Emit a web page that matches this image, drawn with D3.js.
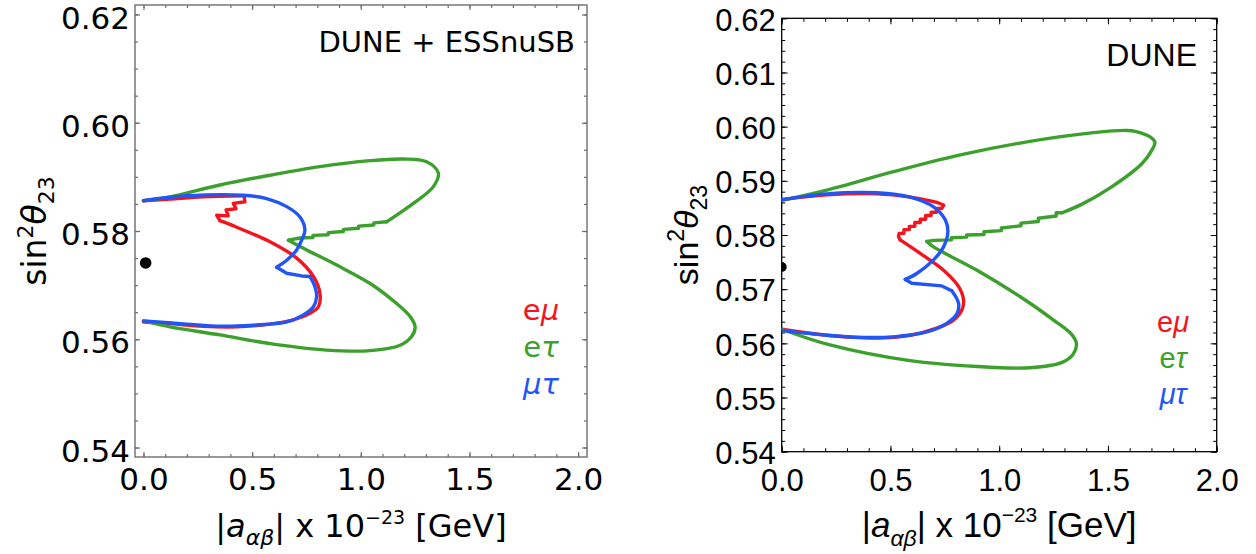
<!DOCTYPE html>
<html>
<head>
<meta charset="utf-8">
<script src="https://cdn.jsdelivr.net/npm/d3@7"></script>
<style>
  body { margin: 0; background: #fff; }
  svg { display: block; }
</style>
</head>
<body>
<div id="chart"></div>
<script>
// -------- DATA --------
const xTicks = [0, 0.5, 1, 1.5, 2];
const xTickLabels = ["0.0", "0.5", "1.0", "1.5", "2.0"];
const leftYTicks = [0.54, 0.56, 0.58, 0.60, 0.62];
const rightYTicks = [0.54, 0.55, 0.56, 0.57, 0.58, 0.59, 0.60, 0.61, 0.62];

const seriesNames = ["eμ", "eτ", "μτ"];
const seriesColors = ["#f5141e", "#3ca02c", "#2255f5"];

// left panel: DUNE + ESSnuSB
const leftEmuTop = [[0,0.5856],[0.122,0.5859],[0.275,0.5863],[0.4626,0.5865]];
const leftEmuZig = [[0.4626,0.5865],[0.467,0.5854],[0.413,0.5851],[0.426,0.5841],[0.380,0.5839],[0.390,0.5828],[0.337,0.5829],[0.352,0.5819]];
const leftEmuBottom = [[0.352,0.5819],[0.429,0.5807],[0.582,0.5780],[0.705,0.5750],[0.782,0.5716],[0.812,0.5685],[0.805,0.5660],[0.766,0.5648],[0.690,0.5636],[0.582,0.5628],[0.429,0.5623],[0.275,0.5624],[0.122,0.5629],[0,0.5632]];

const leftEtauTop = [[0,0.5856],[0.122,0.5863],[0.352,0.5885],[0.582,0.5903],[0.812,0.5919],[1.043,0.5930],[1.196,0.5933],[1.303,0.5928],[1.357,0.5907],[1.334,0.5882],[1.242,0.5851],[1.119,0.5817]];
const leftEtauStep = [[1.119,0.5817],[1.060,0.5815],[1.060,0.5811],[0.990,0.5809],[0.990,0.5805],[0.920,0.5803],[0.920,0.5799],[0.850,0.5797],[0.850,0.5793],[0.780,0.5792],[0.780,0.5788],[0.720,0.5787],[0.667,0.5783]];
const leftEtauBottom = [[0.667,0.5783],[0.751,0.5765],[0.889,0.5737],[1.043,0.5703],[1.165,0.5666],[1.227,0.5642],[1.250,0.5623],[1.234,0.5605],[1.181,0.5589],[1.043,0.5579],[0.843,0.5580],[0.582,0.5592],[0.352,0.5608],[0.122,0.5623],[0,0.5634]];

const leftMutauTop = [[0,0.5856],[0.199,0.5865],[0.459,0.5866],[0.567,0.5860],[0.659,0.5845],[0.720,0.5826],[0.743,0.5802],[0.728,0.5783],[0.705,0.5765],[0.659,0.5746],[0.613,0.5733]];
const leftMutauKink = [[0.613,0.5733],[0.659,0.5722],[0.728,0.5717],[0.766,0.5716]];
const leftMutauBottom = [[0.766,0.5716],[0.789,0.5697],[0.797,0.5679],[0.782,0.5660],[0.736,0.5645],[0.659,0.5632],[0.505,0.5626],[0.352,0.5624],[0.199,0.5628],[0,0.5634]];

const leftDot = [0.01, 0.5741];

// right panel: DUNE
const rightEmuTop = [[0,0.5865],[0.207,0.5874],[0.437,0.5876],[0.591,0.5870],[0.713,0.5860],[0.744,0.5855]];
const rightEmuStep = [[0.744,0.5855],[0.736,0.5849],[0.712,0.5849],[0.712,0.5842],[0.687,0.5842],[0.687,0.5836],[0.662,0.5836],[0.662,0.5829],[0.637,0.5829],[0.637,0.5823],[0.612,0.5823],[0.612,0.5816],[0.587,0.5816],[0.587,0.5810],[0.562,0.5810],[0.562,0.5803],[0.540,0.5803],[0.537,0.5797],[0.545,0.5791]];
const rightEmuBottom = [[0.545,0.5791],[0.637,0.5766],[0.744,0.5735],[0.813,0.5705],[0.836,0.5680],[0.829,0.5662],[0.790,0.5643],[0.713,0.5628],[0.591,0.5615],[0.437,0.5610],[0.207,0.5615],[0,0.5626]];

const rightEtauTop = [[0,0.5864],[0.207,0.5883],[0.514,0.5917],[0.821,0.5948],[1.128,0.5972],[1.434,0.5989],[1.588,0.5993],[1.630,0.5991],[1.694,0.5981],[1.716,0.5971],[1.704,0.5958],[1.657,0.5932],[1.510,0.5887],[1.381,0.5857],[1.289,0.5841]];
const rightEtauStep = [[1.289,0.5841],[1.262,0.5841],[1.262,0.5835],[1.180,0.5831],[1.180,0.5825],[1.100,0.5822],[1.100,0.5817],[1.010,0.5813],[1.010,0.5808],[0.930,0.5806],[0.930,0.5801],[0.850,0.5800],[0.850,0.5796],[0.780,0.5795],[0.780,0.5791],[0.700,0.5790],[0.667,0.5788]];
const rightEtauBottom = [[0.667,0.5788],[0.698,0.5778],[0.898,0.5735],[1.097,0.5686],[1.250,0.5643],[1.330,0.5618],[1.355,0.5600],[1.340,0.5580],[1.289,0.5565],[1.142,0.5555],[0.958,0.5556],[0.590,0.5568],[0.222,0.5597],[0,0.5626]];

const rightMutauTop = [[0,0.5865],[0.207,0.5876],[0.437,0.5878],[0.591,0.5870],[0.698,0.5852],[0.752,0.5828],[0.764,0.5806],[0.744,0.5778],[0.698,0.5754],[0.621,0.5729],[0.568,0.5718]];
const rightMutauKink = [[0.568,0.5718],[0.598,0.5711],[0.736,0.5706],[0.782,0.5697]];
const rightMutauBottom = [[0.782,0.5697],[0.813,0.5674],[0.806,0.5655],[0.759,0.5637],[0.667,0.5621],[0.514,0.5612],[0.360,0.5611],[0.207,0.5615],[0,0.5624]];

const rightDot = [0, 0.5741];

// -------- SVG --------
const width = 1256, height = 554;
const svg = d3.select("#chart").append("svg")
  .attr("width", width)
  .attr("height", height);

const smooth = d3.line().curve(d3.curveCatmullRom.alpha(0.5));
const straight = d3.line();

// draws one framed panel
function drawPanel(cfg) {
  const x = cfg.x, y = cfg.y;
  const [fx0, fx1] = x.range();
  const [fy1, fy0] = y.range(); // bottom, top
  const g = svg.append("g");

  const clipId = cfg.id + "-clip";
  g.append("clipPath").attr("id", clipId)
    .append("rect")
      .attr("x", fx0).attr("y", fy0)
      .attr("width", fx1 - fx0).attr("height", fy1 - fy0);

  // minor + major ticks on all four sides (pointing inward)
  const tickSets = [
    {axis: d3.axisBottom(x), pos: `translate(0,${fy1})`, vals: cfg.xMinor, len: cfg.minorLen},
    {axis: d3.axisTop(x), pos: `translate(0,${fy0})`, vals: cfg.xMinor, len: cfg.minorLen},
    {axis: d3.axisTop(x), pos: `translate(0,${fy0})`, vals: xTicks, len: cfg.majorLen},
    {axis: d3.axisLeft(y), pos: `translate(${fx0},0)`, vals: cfg.yMinor, len: cfg.minorLen},
    {axis: d3.axisRight(y), pos: `translate(${fx1},0)`, vals: cfg.yMinor, len: cfg.minorLen},
    {axis: d3.axisRight(y), pos: `translate(${fx1},0)`, vals: cfg.yTicks, len: cfg.majorLen}
  ];
  tickSets.forEach(t => {
    const a = g.append("g")
      .attr("transform", t.pos)
      .call(t.axis.tickValues(t.vals).tickSize(-t.len).tickFormat(""));
    a.select(".domain").remove();
    a.selectAll("line").attr("stroke", cfg.frameColor).attr("stroke-width", cfg.tickWidth);
  });

  // labelled axes
  const xAx = g.append("g")
    .attr("transform", `translate(0,${fy1})`)
    .call(d3.axisBottom(x).tickValues(xTicks).tickSize(-cfg.majorLen)
      .tickPadding(cfg.xPad).tickFormat((d, i) => xTickLabels[i]));
  const yAx = g.append("g")
    .attr("transform", `translate(${fx0},0)`)
    .call(d3.axisLeft(y).tickValues(cfg.yTicks).tickSize(-cfg.majorLen)
      .tickPadding(cfg.yPad).tickFormat(d3.format(".2f")));
  [xAx, yAx].forEach(a => {
    a.select(".domain").remove();
    a.selectAll("line").attr("stroke", cfg.frameColor).attr("stroke-width", cfg.tickWidth);
    a.attr("font-family", cfg.font).attr("font-size", cfg.tickFont);
    a.selectAll("text").attr("fill", "#000");
  });
  yAx.selectAll("text").attr("dy", cfg.yDy);

  // frame
  g.append("rect")
    .attr("x", fx0).attr("y", fy0)
    .attr("width", fx1 - fx0).attr("height", fy1 - fy0)
    .attr("fill", "none")
    .attr("stroke", cfg.frameColor)
    .attr("stroke-width", cfg.frameWidth);

  // curves
  const plot = g.append("g").attr("clip-path", `url(#${clipId})`);
  cfg.curves.forEach(c => {
    c.pieces.forEach(p => {
      plot.append("path")
        .attr("d", (p.sharp ? straight : smooth)(p.pts.map(d => [x(d[0]), y(d[1])])))
        .attr("fill", "none")
        .attr("stroke", c.color)
        .attr("stroke-width", 3.4)
        .attr("stroke-linejoin", "round")
        .attr("stroke-linecap", "round");
    });
  });

  plot.append("circle")
    .attr("cx", x(cfg.dot[0])).attr("cy", y(cfg.dot[1]))
    .attr("r", cfg.dotR).attr("fill", "#000");

  // title inside frame
  g.append("text")
    .attr("x", cfg.title.x).attr("y", cfg.title.y)
    .attr("text-anchor", "end")
    .attr("font-family", cfg.font).attr("font-size", cfg.title.size)
    .text(cfg.title.text);

  // legend
  seriesNames.forEach((n, i) => {
    const t = g.append("text")
      .attr("x", cfg.legend.x).attr("y", cfg.legend.y + i * cfg.legend.dy)
      .attr("text-anchor", "middle")
      .attr("font-family", cfg.font).attr("font-size", cfg.legend.size)
      .attr("fill", seriesColors[i]);
    [...n].forEach(ch => {
      t.append("tspan").attr("font-style", ch === "e" ? "normal" : "italic").text(ch);
    });
  });

  // y axis label (centred on the frame by measuring it)
  const ys = cfg.yLabel.size, yss = cfg.yLabel.sub;
  const yl = g.append("text")
    .attr("font-family", cfg.font).attr("font-size", ys);
  yl.append("tspan").text("sin");
  yl.append("tspan").attr("font-size", yss).attr("dy", -ys * 0.4).text("2");
  yl.append("tspan").attr("font-style", "italic").attr("dy", ys * 0.4).text("θ");
  yl.append("tspan").attr("font-size", yss).attr("dy", ys * 0.25).text("23");
  const yw = yl.node().getComputedTextLength();
  yl.attr("transform", `translate(${cfg.yLabel.x},${(fy0 + fy1) / 2 + yw / 2}) rotate(-90)`);

  // x axis label
  const xs = cfg.xLabel.size;
  const xl = g.append("text")
    .attr("y", cfg.xLabel.y)
    .attr("font-family", cfg.font).attr("font-size", xs);
  xl.append("tspan").text("|");
  xl.append("tspan").attr("font-style", "italic").text("a");
  xl.append("tspan").attr("font-style", "italic").attr("font-size", cfg.xLabel.sub).attr("dy", xs * 0.25).text("αβ");
  xl.append("tspan").attr("dy", -xs * 0.25).text("| x 10");
  xl.append("tspan").attr("font-size", cfg.xLabel.sup).attr("dy", -xs * 0.42).text("−23");
  xl.append("tspan").attr("dy", xs * 0.42).text(cfg.xLabel.gap + "[GeV]");
  const xw = xl.node().getComputedTextLength();
  xl.attr("x", (fx0 + fx1) / 2 - xw / 2);
}

function curvesOf(emu, etau, mutau) {
  return [
    {color: seriesColors[0], pieces: emu},
    {color: seriesColors[1], pieces: etau},
    {color: seriesColors[2], pieces: mutau}
  ];
}

// -------- LEFT PANEL --------
drawPanel({
  id: "left",
  x: d3.scaleLinear().domain([-0.039, 2.041]).range([135, 587]),
  y: d3.scaleLinear().domain([0.53825, 0.62175]).range([457, 5]),
  xMinor: d3.range(0, 2.05, 0.1),
  yMinor: d3.range(0.54, 0.6225, 0.005),
  yTicks: leftYTicks,
  majorLen: 5, minorLen: 3,
  frameColor: "#6e6e6e", frameWidth: 1.4, tickWidth: 1.2,
  font: "DejaVu Sans", tickFont: 31, labelFont: 31,
  xPad: 11, yPad: 5, yDy: "0.44em",
  dot: leftDot, dotR: 5.8,
  title: {text: "DUNE + ESSnuSB", x: 575, y: 52, size: 29},
  legend: {x: 541, y: 320, dy: 37, size: 29},
  yLabel: {x: 46, size: 33, sub: 22},
  xLabel: {y: 537, gap: " ", size: 32, sub: 22, sup: 19},
  curves: curvesOf(
    [{pts: leftEmuTop}, {pts: leftEmuZig, sharp: true}, {pts: leftEmuBottom}],
    [{pts: leftEtauTop}, {pts: leftEtauStep, sharp: true}, {pts: leftEtauBottom}],
    [{pts: leftMutauTop}, {pts: leftMutauKink, sharp: true}, {pts: leftMutauBottom}]
  )
});

// -------- RIGHT PANEL --------
drawPanel({
  id: "right",
  x: d3.scaleLinear().domain([0, 2]).range([781.7, 1216.7]),
  y: d3.scaleLinear().domain([0.54, 0.62]).range([451.7, 18.3]),
  xMinor: d3.range(0, 2.05, 0.1),
  yMinor: d3.range(0.54, 0.6205, 0.002),
  yTicks: rightYTicks,
  majorLen: 6, minorLen: 3.5,
  frameColor: "#000", frameWidth: 1.3, tickWidth: 1,
  font: "Liberation Sans", tickFont: 31, labelFont: 31,
  xPad: 17, yPad: 6, yDy: "0.38em",
  dot: rightDot, dotR: 5,
  title: {text: "DUNE", x: 1197, y: 66, size: 32},
  legend: {x: 1173, y: 332, dy: 36, size: 29},
  yLabel: {x: 698, size: 34, sub: 23},
  xLabel: {y: 537, gap: "  ", size: 35, sub: 23, sup: 21},
  curves: curvesOf(
    [{pts: rightEmuTop}, {pts: rightEmuStep, sharp: true}, {pts: rightEmuBottom}],
    [{pts: rightEtauTop}, {pts: rightEtauStep, sharp: true}, {pts: rightEtauBottom}],
    [{pts: rightMutauTop}, {pts: rightMutauKink, sharp: true}, {pts: rightMutauBottom}]
  )
});
</script>
</body>
</html>
